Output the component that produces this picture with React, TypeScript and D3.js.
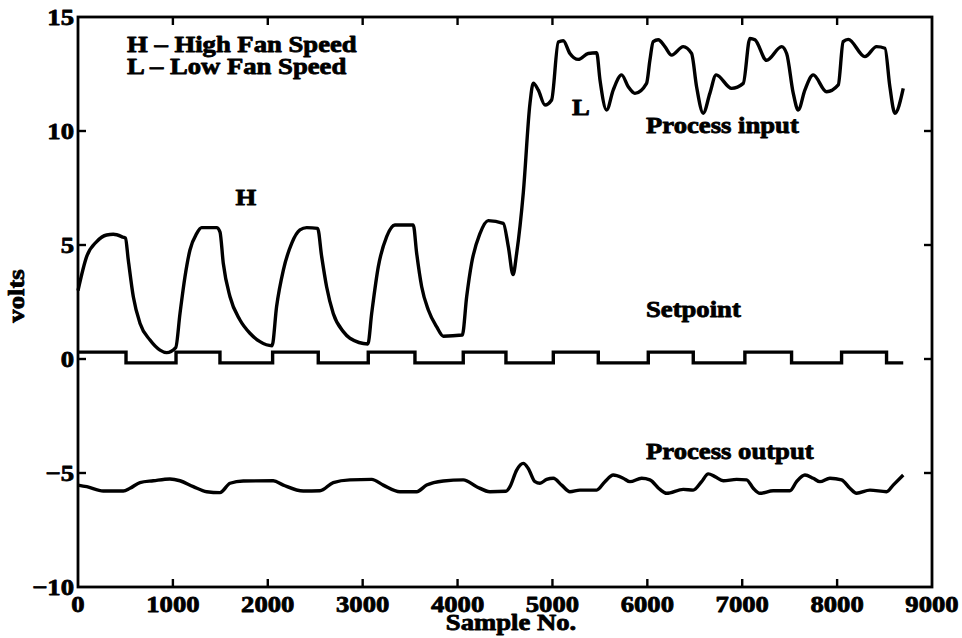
import React from "react";
import * as d3 from "d3";

// Sample numbers / volts
const processInput: [number, number][] = [
  [0, 3.0], [92, 4.5], [197, 5.15], [302, 5.44], [372, 5.47], [477, 5.34], [500, 5.3],
  [530, 4.34], [583, 2.73], [653, 1.57], [759, 0.83], [864, 0.39], [934, 0.28], [1030, 0.5],
  [1075, 2.0], [1127, 3.6], [1180, 4.78], [1250, 5.5], [1303, 5.76], [1461, 5.76], [1496, 5.58],
  [1531, 4.2], [1602, 2.73], [1707, 1.71], [1812, 1.13], [1918, 0.76], [2045, 0.58],
  [2093, 2.3], [2164, 3.9], [2252, 5.07], [2339, 5.66], [2410, 5.76], [2525, 5.73],
  [2568, 4.49], [2620, 3.17], [2690, 2.0], [2796, 1.2], [2866, 0.91], [3055, 0.66],
  [3095, 2.0], [3165, 4.05], [3253, 5.37], [3340, 5.88], [3533, 5.88],
  [3569, 4.64], [3622, 3.17], [3692, 2.15], [3779, 1.42], [3850, 1.0], [4050, 1.05],
  [4096, 2.73], [4148, 4.2], [4236, 5.5], [4323, 6.07], [4482, 5.95],
  [4535, 4.93], [4585, 3.7], [4623, 4.64], [4693, 7.3], [4763, 11.2], [4798, 12.1],
  [4850, 11.8], [4921, 11.14], [4991, 11.36], [5062, 13.9], [5114, 13.96], [5184, 13.4],
  [5272, 13.14], [5377, 13.4], [5466, 13.43], [5501, 12.24], [5571, 10.92], [5641, 11.8],
  [5729, 12.46], [5799, 11.94], [5869, 11.65], [5992, 12.09], [6027, 13.1], [6062, 13.92],
  [6115, 14.0], [6185, 13.7], [6256, 13.33], [6378, 13.7], [6466, 13.4], [6519, 11.94],
  [6589, 10.78], [6659, 11.65], [6725, 12.46], [6888, 11.87], [7011, 12.09], [7081, 14.06],
  [7134, 14.0], [7257, 13.1], [7415, 13.7], [7468, 13.4], [7538, 11.65], [7590, 10.92],
  [7661, 11.8], [7748, 12.46], [7889, 11.72], [8012, 12.02], [8064, 13.92], [8117, 14.02],
  [8293, 13.26], [8416, 13.7], [8504, 13.63], [8556, 11.94], [8609, 10.78], [8697, 11.87],
];

const setpointSwitches: number[] = [
  0, 506, 1033, 1496, 2051, 2532, 3059, 3551, 4060, 4510, 5009, 5483, 6010, 6484,
  7028, 7520, 8047, 8521, 8697,
];
const setpointLevels: number[] = [0.3, -0.17];

const processOutput: [number, number][] = [
  [0, -5.53], [92, -5.6], [267, -5.79], [477, -5.79], [548, -5.67], [653, -5.42], [794, -5.34],
  [969, -5.26], [1075, -5.34], [1215, -5.6], [1356, -5.82], [1496, -5.86], [1602, -5.45],
  [1742, -5.35], [2058, -5.34], [2164, -5.53], [2374, -5.79], [2550, -5.78], [2690, -5.42],
  [2866, -5.3], [3095, -5.28], [3217, -5.53], [3393, -5.82], [3569, -5.82], [3674, -5.53],
  [3850, -5.35], [4060, -5.3], [4201, -5.6], [4341, -5.82], [4510, -5.8], [4552, -5.6],
  [4623, -4.87], [4693, -4.58], [4745, -4.8], [4816, -5.38], [4868, -5.45], [4939, -5.28],
  [5009, -5.23], [5097, -5.53], [5184, -5.82], [5290, -5.75], [5466, -5.75], [5553, -5.38],
  [5641, -5.09], [5746, -5.23], [5817, -5.38], [5940, -5.23], [6027, -5.3], [6133, -5.72],
  [6203, -5.89], [6378, -5.72], [6484, -5.75], [6572, -5.38], [6642, -5.04], [6712, -5.16],
  [6800, -5.34], [6941, -5.28], [7046, -5.3], [7116, -5.67], [7186, -5.89], [7327, -5.78],
  [7503, -5.78], [7573, -5.38], [7661, -5.09], [7748, -5.23], [7819, -5.38], [7924, -5.23],
  [8047, -5.3], [8135, -5.67], [8205, -5.89], [8346, -5.75], [8521, -5.82], [8591, -5.53],
  [8697, -5.09],
];

const xTicks: number[] = [0, 1000, 2000, 3000, 4000, 5000, 6000, 7000, 8000, 9000];
const yTicks: number[] = [-10, -5, 0, 5, 10, 15];

const legendLines: string[] = ["H \u2013 High Fan Speed", "L \u2013 Low Fan Speed"];

const W = 962;
const H = 638;
const margin = { left: 78, right: 30, top: 17, bottom: 51 };
const FONT = "'Liberation Serif', 'Times New Roman', serif";
const FS = 23;
const STRETCH = 1.16;

const x = d3.scaleLinear().domain([0, 9000]).range([margin.left, W - margin.right]);
const y = d3.scaleLinear().domain([-10, 15]).range([H - margin.bottom, margin.top]);

function Label({ tx, ty, anchor = "start", rotate = 0, children }: any) {
  return (
    <text
      transform={`translate(${tx},${ty}) rotate(${rotate}) scale(${STRETCH},1)`}
      textAnchor={anchor}
      fontFamily={FONT}
      fontWeight="bold"
      fontSize={FS}
      fill="#000"
      stroke="#000"
      strokeWidth={0.8}
      strokeLinejoin="round"
    >
      {children}
    </text>
  );
}

export default function App() {
  const line = d3
    .line<[number, number]>()
    .x((d) => x(d[0]))
    .y((d) => y(d[1]))
    .curve(d3.curveMonotoneX);

  const setpointData: [number, number][] = setpointSwitches.map((s, i) => [
    s,
    setpointLevels[i % 2 === 0 ? 0 : 1],
  ]);
  // final point holds the last level
  setpointData[setpointData.length - 1][1] = setpointData[setpointData.length - 2][1];
  const stepLine = d3
    .line<[number, number]>()
    .x((d) => x(d[0]))
    .y((d) => y(d[1]))
    .curve(d3.curveStepAfter);

  const x0 = x(0);
  const x1 = x(9000);
  const y0 = y(-10);
  const y1 = y(15);
  const tick = 8;

  return (
    <svg
      width={W}
      height={H}
      style={{ position: "absolute", left: 0, top: 0, background: "#fff" }}
    >
      <rect x={0} y={0} width={W} height={H} fill="#fff" />
      {/* frame */}
      <rect x={x0} y={y1} width={x1 - x0} height={y0 - y1} fill="none" stroke="#000" strokeWidth={2.8} />
      {/* ticks on all four sides */}
      {xTicks.slice(1, -1).map((t) => (
        <g key={"xt" + t}>
          <line x1={x(t)} x2={x(t)} y1={y0} y2={y0 - tick} stroke="#000" strokeWidth={2.4} />
          <line x1={x(t)} x2={x(t)} y1={y1} y2={y1 + tick} stroke="#000" strokeWidth={2.4} />
        </g>
      ))}
      {yTicks.slice(1, -1).map((t) => (
        <g key={"yt" + t}>
          <line x1={x0} x2={x0 + tick} y1={y(t)} y2={y(t)} stroke="#000" strokeWidth={2.4} />
          <line x1={x1} x2={x1 - tick} y1={y(t)} y2={y(t)} stroke="#000" strokeWidth={2.4} />
        </g>
      ))}
      {/* tick labels */}
      {xTicks.map((t) => (
        <Label key={"xl" + t} tx={x(t)} ty={y0 + 25} anchor="middle">
          {t}
        </Label>
      ))}
      {yTicks.map((t) => (
        <Label key={"yl" + t} tx={x0 - 4} ty={y(t) + 8} anchor="end">
          {t < 0 ? "\u2212" + Math.abs(t) : String(t)}
        </Label>
      ))}
      {/* axis titles */}
      <Label tx={511} ty={630} anchor="middle">Sample No.</Label>
      <Label tx={24} ty={296} anchor="middle" rotate={-90}>volts</Label>

      {/* series */}
      <path d={line(processInput) || ""} fill="none" stroke="#000" strokeWidth={3.4} strokeLinejoin="round" />
      <path d={stepLine(setpointData) || ""} fill="none" stroke="#000" strokeWidth={3.4} />
      <path d={line(processOutput) || ""} fill="none" stroke="#000" strokeWidth={3.4} strokeLinejoin="round" />

      {/* annotations */}
      {legendLines.map((s, i) => (
        <Label key={s} tx={127} ty={52 + i * 22}>{s}</Label>
      ))}
      <Label tx={246} ty={205} anchor="middle">H</Label>
      <Label tx={572} ty={115}>L</Label>
      <Label tx={646} ty={133}>Process input</Label>
      <Label tx={646} ty={317}>Setpoint</Label>
      <Label tx={646} ty={459}>Process output</Label>
    </svg>
  );
}
